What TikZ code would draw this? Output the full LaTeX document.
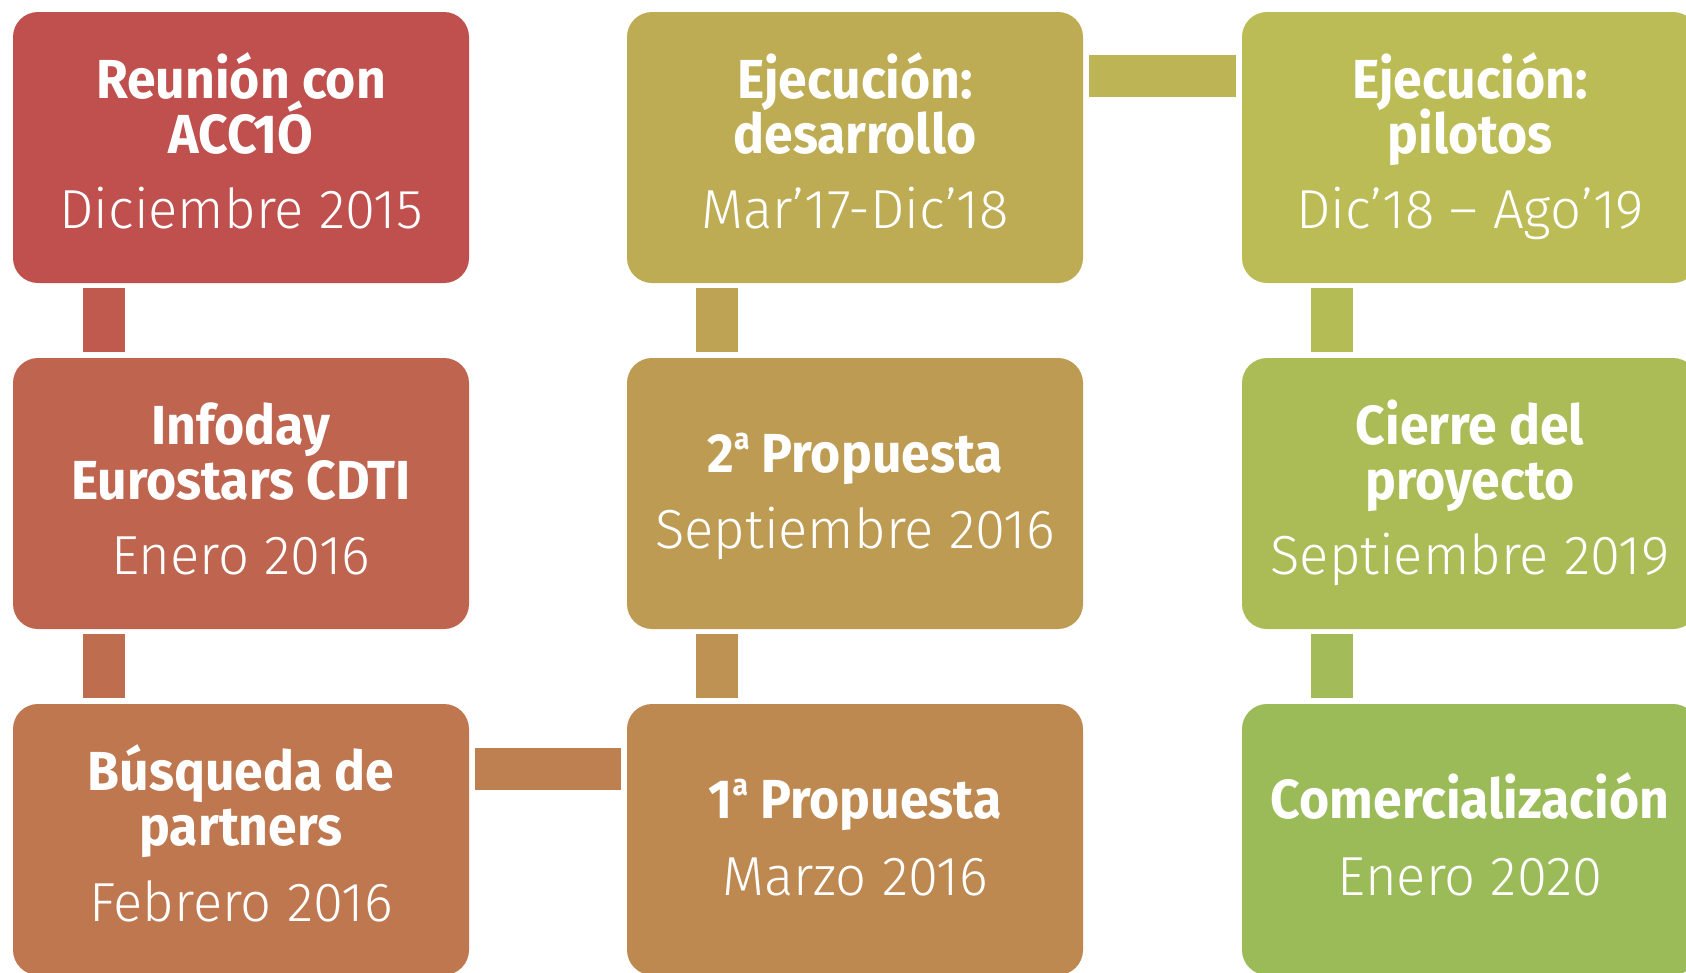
\documentclass[tikz,border=0pt]{standalone}
\usepackage{fontspec}
\newfontfamily\ttlfont[FakeStretch=0.94]{Fira Sans Bold}
\newfontfamily\datefont[FakeStretch=0.99]{Fira Sans Light}
\newcommand\ordA{\raisebox{23pt}{\fontsize{30}{30}\selectfont a}}
\definecolor{c0}{HTML}{C0504D}
\definecolor{c1}{HTML}{BF644E}
\definecolor{c2}{HTML}{BF7750}
\definecolor{c3}{HTML}{BE8951}
\definecolor{c4}{HTML}{BD9B53}
\definecolor{c5}{HTML}{BDAC54}
\definecolor{c6}{HTML}{BCBC56}
\definecolor{c7}{HTML}{ABBC57}
\definecolor{c8}{HTML}{9BBB59}
\begin{document}
\begin{tikzpicture}[x=1pt,y=-1pt,
  box/.style={rectangle, rounded corners=25pt, minimum width=456pt, minimum height=271pt, inner sep=0pt, draw=none},
  ttl/.style={anchor=base, inner sep=0pt, text=white, font=\ttlfont\fontsize{55}{60}\selectfont},
  dat/.style={anchor=base, inner sep=0pt, text=white, font=\datefont\fontsize{55}{60}\selectfont},
  conn/.style={line width=42pt, line cap=butt}]
\useasboundingbox (0,0) rectangle (1686,972);
\clip (0,0) rectangle (1686,972);
% boxes
\node[box, fill=c0] (b1) at (241,147.5) {};
\node[box, fill=c1] (b2) at (241,493.5) {};
\node[box, fill=c2] (b3) at (241,839.5) {};
\node[box, fill=c3] (b4) at (855,839.5) {};
\node[box, fill=c4] (b5) at (855,493.5) {};
\node[box, fill=c5] (b6) at (855,147.5) {};
\node[box, fill=c6] (b7) at (1470,147.5) {};
\node[box, fill=c7] (b8) at (1470,493.5) {};
\node[box, fill=c8] (b9) at (1470,839.5) {};
% connectors
\draw[conn, c0!50!c1] ([xshift=91pt,yshift=-5pt]b1.south west) -- ([xshift=91pt,yshift=6pt]b2.north west);
\draw[conn, c1!50!c2] ([xshift=91pt,yshift=-5pt]b2.south west) -- ([xshift=91pt,yshift=6pt]b3.north west);
\draw[conn, c2!50!c3] ([xshift=6pt,yshift=-65pt]b3.north east) -- ([xshift=-6pt,yshift=-65pt]b4.north west);
\draw[conn, c3!50!c4] ([xshift=90pt,yshift=6pt]b4.north west) -- ([xshift=90pt,yshift=-5pt]b5.south west);
\draw[conn, c4!50!c5] ([xshift=90pt,yshift=6pt]b5.north west) -- ([xshift=90pt,yshift=-5pt]b6.south west);
\draw[conn, c5!50!c6] ([xshift=6pt,yshift=-64pt]b6.north east) -- ([xshift=-6pt,yshift=-64pt]b7.north west);
\draw[conn, c6!50!c7] ([xshift=90pt,yshift=-5pt]b7.south west) -- ([xshift=90pt,yshift=6pt]b8.north west);
\draw[conn, c7!50!c8] ([xshift=90pt,yshift=-5pt]b8.south west) -- ([xshift=90pt,yshift=6pt]b9.north west);
% texts column 1
\node[ttl] (t1a) at (241,98) {Reunión con};
\node[ttl] (t1b) at (241,153) {ACC1Ó};
\node[dat] (t1c) at (241,228) {Diciembre 2015};
\node[ttl] (t2a) at (241,444) {Infoday};
\node[ttl] (t2b) at (241,499) {Eurostars CDTI};
\node[dat] (t2c) at (241,574) {Enero 2016};
\node[ttl] (t3a) at (241,790) {Búsqueda de};
\node[ttl] (t3b) at (241,845) {partners};
\node[dat] (t3c) at (241,921) {Febrero 2016};
% column 2
\node[ttl] (t4a) at (855,818) {1\ordA{} Propuesta};
\node[dat] (t4b) at (855,895) {Marzo 2016};
\node[ttl] (t5a) at (855,472) {2\ordA{} Propuesta};
\node[dat] (t5b) at (855,548) {Septiembre 2016};
\node[ttl] (t6a) at (855,98) {Ejecución:};
\node[ttl] (t6b) at (855,153) {desarrollo};
\node[dat] (t6c) at (855,228) {Mar’17-Dic’18};
% column 3
\node[ttl] (t7a) at (1470,98) {Ejecución:};
\node[ttl] (t7b) at (1470,153) {pilotos};
\node[dat] (t7c) at (1470,228) {Dic’18 – Ago’19};
\node[ttl] (t8a) at (1470,444) {Cierre del};
\node[ttl] (t8b) at (1470,499) {proyecto};
\node[dat] (t8c) at (1470,574) {Septiembre 2019};
\node[ttl] (t9a) at (1470,818) {Comercialización};
\node[dat] (t9b) at (1470,895) {Enero 2020};
\end{tikzpicture}
\end{document}
